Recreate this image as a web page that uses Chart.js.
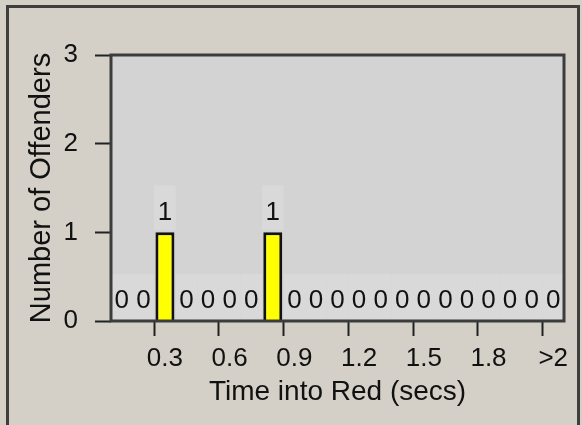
<!DOCTYPE html>
<html>
<head>
<meta charset="utf-8">
<title>Time into Red</title>
<script src="https://cdn.jsdelivr.net/npm/chart.js@4/dist/chart.umd.min.js"></script>
<style>
    html, body {
        margin: 0;
        padding: 0;
        background: #d4d0c8;
        width: 582px;
        height: 425px;
        overflow: hidden;
    }
    #wrap {
        position: relative;
        width: 582px;
        height: 425px;
    }
    #frame {
        position: absolute;
        left: 6px;
        top: 5px;
        width: 574px;
        height: 430px;
        box-sizing: border-box;
        border: 3px solid #3f3e3c;
        border-bottom: none;
        pointer-events: none;
    }
    canvas {
        position: absolute;
        left: 0;
        top: 0;
    }
</style>
</head>
<body>
<div id="wrap">
    <canvas id="redChart" width="582" height="425"></canvas>
    <div id="frame"></div>
</div>
<script>
// ========================================
// DATA
// ========================================
const timeBins = ['0.1', '0.2', '0.3', '0.4', '0.5', '0.6', '0.7', '0.8', '0.9', '1.0',
                  '1.1', '1.2', '1.3', '1.4', '1.5', '1.6', '1.7', '1.8', '1.9', '2.0', '>2'];
const offenders = [0, 0, 1, 0, 0, 0, 0, 1, 0, 0,
                   0, 0, 0, 0, 0, 0, 0, 0, 0, 0, 0];
const yTickValues = [0, 1, 2, 3];
const xLabelEvery = 3; // only 0.3, 0.6, ... get a label

const FONT = '"Liberation Sans", Arial, sans-serif';

// ========================================
// PLUGINS
// ========================================
// plot background + dark frame around the chart area
const plotFrame = {
    id: 'plotFrame',
    beforeDraw(chart) {
        const { ctx, chartArea: a } = chart;
        ctx.save();
        ctx.fillStyle = '#d3d3d3';
        ctx.fillRect(a.left, a.top, a.right - a.left, a.bottom - a.top);
        ctx.restore();
    },
    afterDraw(chart) {
        const { ctx, chartArea: a } = chart;
        ctx.save();
        ctx.strokeStyle = '#3c3c3c';
        ctx.lineWidth = 3;
        ctx.strokeRect(a.left, a.top, a.right - a.left, a.bottom - a.top);
        ctx.restore();
    }
};

// value labels above every bar (zeros too), with a faint box behind
const valueLabels = {
    id: 'valueLabels',
    beforeDatasetsDraw(chart) {
        const { ctx } = chart;
        const meta = chart.getDatasetMeta(0);
        const xs = chart.scales.x;
        const w = (xs.right - xs.left) / timeBins.length;
        ctx.save();
        ctx.fillStyle = '#d9d9d9';
        meta.data.forEach((bar) => {
            const cy = bar.y - 20;
            ctx.fillRect(bar.x - w / 2, cy - 27, w, 45);
        });
        ctx.restore();
    },
    afterDatasetsDraw(chart) {
        const { ctx } = chart;
        const meta = chart.getDatasetMeta(0);
        ctx.save();
        ctx.font = '26px ' + FONT;
        ctx.fillStyle = '#111';
        ctx.textAlign = 'center';
        ctx.textBaseline = 'middle';
        meta.data.forEach((bar, i) => {
            ctx.fillText(String(offenders[i]), bar.x, bar.y - 20);
        });
        ctx.restore();
    }
};

// ========================================
// CHART
// ========================================
new Chart(document.getElementById('redChart'), {
    type: 'bar',
    data: {
        labels: timeBins,
        datasets: [{
            label: 'Offenders',
            data: offenders,
            backgroundColor: '#ffff00',
            borderColor: '#111',
            borderWidth: (c) => (c.raw > 0 ? 3 : 0),
            barPercentage: 0.88,
            categoryPercentage: 1
        }]
    },
    options: {
        responsive: false,
        animation: false,
        layout: {
            padding: { left: 20, top: 55, right: 18, bottom: 10 }
        },
        plugins: {
            legend: { display: false },
            tooltip: { enabled: false }
        },
        scales: {
            x: {
                afterFit: (s) => { s.height = 94; },
                border: { display: false },
                grid: {
                    drawOnChartArea: false,
                    drawTicks: true,
                    tickLength: 15,
                    tickWidth: 2,
                    tickColor: (c) => (c.index % xLabelEvery === xLabelEvery - 1 ? '#222' : 'rgba(0,0,0,0)')
                },
                ticks: {
                    autoSkip: false,
                    maxRotation: 0,
                    padding: 7,
                    color: '#111',
                    font: { family: FONT, size: 26 },
                    callback: function (value, index) {
                        return index % xLabelEvery === xLabelEvery - 1 ? timeBins[index] : '';
                    }
                },
                title: {
                    display: true,
                    text: 'Time into Red (secs)',
                    color: '#111',
                    font: { family: FONT, size: 28 },
                    padding: { top: 0, bottom: 6 }
                }
            },
            y: {
                min: yTickValues[0],
                max: yTickValues[yTickValues.length - 1],
                afterFit: (s) => { s.width = 91; },
                border: { display: false },
                grid: {
                    drawOnChartArea: false,
                    tickLength: 16,
                    tickWidth: 2,
                    tickColor: '#222'
                },
                ticks: {
                    stepSize: 1,
                    padding: 17,
                    color: '#111',
                    font: { family: FONT, size: 26 }
                },
                title: {
                    display: true,
                    text: 'Number of Offenders',
                    color: '#111',
                    font: { family: FONT, size: 29 },
                    padding: { top: 5, bottom: 0 }
                }
            }
        }
    },
    plugins: [plotFrame, valueLabels]
});
</script>
</body>
</html>
